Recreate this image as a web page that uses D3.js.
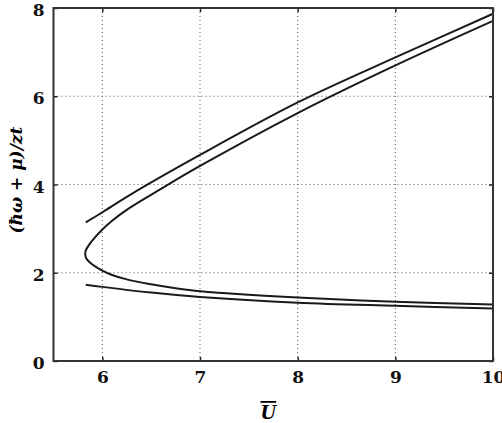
<!DOCTYPE html>
<html>
<head>
<meta charset="utf-8">
<script src="https://cdn.jsdelivr.net/npm/d3@7"></script>
<style>
  body { margin: 0; background: #fff; }
  svg { display: block; }
  .tick text { font-family: "DejaVu Serif", serif; font-weight: bold; font-size: 17px; fill: #111; }
</style>
</head>
<body>
<div id="chart"></div>
<script>
// data
const xTicks = [6, 7, 8, 9, 10];
const yTicks = [0, 2, 4, 6, 8];

// upper line (starts near U = 5.83)
const upperU = [5.83, 6, 6.28, 7, 8, 9, 10];
const upperV = [3.14, 3.37, 3.76, 4.67, 5.86, 6.88, 7.87];

// folded branch: runs from the top right round the nose and out to the bottom right
const foldU = [10, 9, 8, 7, 6.6, 6.28, 6.1, 6, 5.92, 5.86, 5.83, 5.825, 5.835, 5.87, 5.93, 6, 6.1, 6.25, 6.5, 6.75, 7, 7.5, 8, 9, 10];
const foldV = [7.71, 6.7, 5.62, 4.42, 3.9, 3.47, 3.18, 2.98, 2.79, 2.62, 2.5, 2.42, 2.33, 2.24, 2.14, 2.05, 1.95, 1.85, 1.74, 1.65, 1.58, 1.5, 1.44, 1.34, 1.28];

// lower line
const lowerU = [5.83, 6, 6.5, 7, 8, 9, 10];
const lowerV = [1.73, 1.68, 1.55, 1.45, 1.32, 1.25, 1.19];

const W = 502, H = 423;
const margin = { top: 8, right: 9, bottom: 62, left: 53.5 };

const svg = d3.select('#chart').append('svg')
    .attr('width', W)
    .attr('height', H);

const x = d3.scaleLinear().domain([5.5, 10]).range([margin.left, W - margin.right]);
const y = d3.scaleLinear().domain([0, 8]).range([H - margin.bottom, margin.top]);

// grid
const grid = svg.append('g').attr('class', 'grid')
    .attr('stroke', '#555')
    .attr('stroke-width', 1)
    .attr('stroke-dasharray', '1,3');
grid.selectAll('line.gx')
    .data(xTicks.filter(d => d < 10))
    .enter().append('line')
    .attr('class', 'gx')
    .attr('x1', d => x(d)).attr('x2', d => x(d))
    .attr('y1', y(0)).attr('y2', y(8));
grid.selectAll('line.gy')
    .data(yTicks.filter(d => d > 0 && d < 8))
    .enter().append('line')
    .attr('class', 'gy')
    .attr('y1', d => y(d)).attr('y2', d => y(d))
    .attr('x1', x(5.5)).attr('x2', x(10));

// curves
const line = d3.line()
    .x(d => x(d[0]))
    .y(d => y(d[1]))
    .curve(d3.curveCatmullRom.alpha(0.5));

const series = [
    d3.zip(upperU, upperV),
    d3.zip(foldU, foldV),
    d3.zip(lowerU, lowerV)
];

svg.append('g').selectAll('path')
    .data(series)
    .enter().append('path')
    .attr('d', line)
    .attr('fill', 'none')
    .attr('stroke', '#1a1a1a')
    .attr('stroke-width', 2);

// axes with inward ticks
const fmt = d3.format('d');
svg.append('g')
    .attr('transform', `translate(0,${y(0)})`)
    .call(d3.axisBottom(x).tickValues(xTicks).tickFormat(fmt).tickSizeInner(-4).tickSizeOuter(0).tickPadding(10));
svg.append('g')
    .attr('class', 'y-axis')
    .attr('transform', `translate(${x(5.5)},0)`)
    .call(d3.axisLeft(y).tickValues(yTicks).tickFormat(fmt).tickSizeInner(-4).tickSizeOuter(0).tickPadding(9));
svg.selectAll('.y-axis .tick text').attr('dy', '0.45em');
svg.append('g')
    .attr('transform', `translate(0,${y(8)})`)
    .call(d3.axisTop(x).tickValues(xTicks).tickSizeInner(-4).tickSizeOuter(0).tickFormat(''));
svg.append('g')
    .attr('transform', `translate(${x(10)},0)`)
    .call(d3.axisRight(y).tickValues(yTicks).tickSizeInner(-4).tickSizeOuter(0).tickFormat(''));

svg.selectAll('.domain').remove();
svg.selectAll('.tick line').attr('stroke', '#222').attr('stroke-width', 1.5);

// frame
svg.append('rect')
    .attr('x', x(5.5)).attr('y', y(8))
    .attr('width', x(10) - x(5.5))
    .attr('height', y(0) - y(8))
    .attr('fill', 'none')
    .attr('stroke', '#333')
    .attr('stroke-width', 2);

// axis titles
svg.append('text')
    .attr('x', x(7.7))
    .attr('y', 419)
    .attr('text-anchor', 'middle')
    .style('font-family', '"DejaVu Serif", serif')
    .style('font-weight', 'bold')
    .style('font-style', 'italic')
    .style('font-size', '18px')
    .style('text-decoration', 'overline')
    .text('U');

svg.append('text')
    .attr('transform', `translate(22,${y(4.1)}) rotate(-90)`)
    .attr('text-anchor', 'middle')
    .style('font-family', '"DejaVu Serif", serif')
    .style('font-weight', 'bold')
    .style('font-style', 'italic')
    .style('font-size', '17px')
    .text('(ħω + μ)/zt');
</script>
</body>
</html>
